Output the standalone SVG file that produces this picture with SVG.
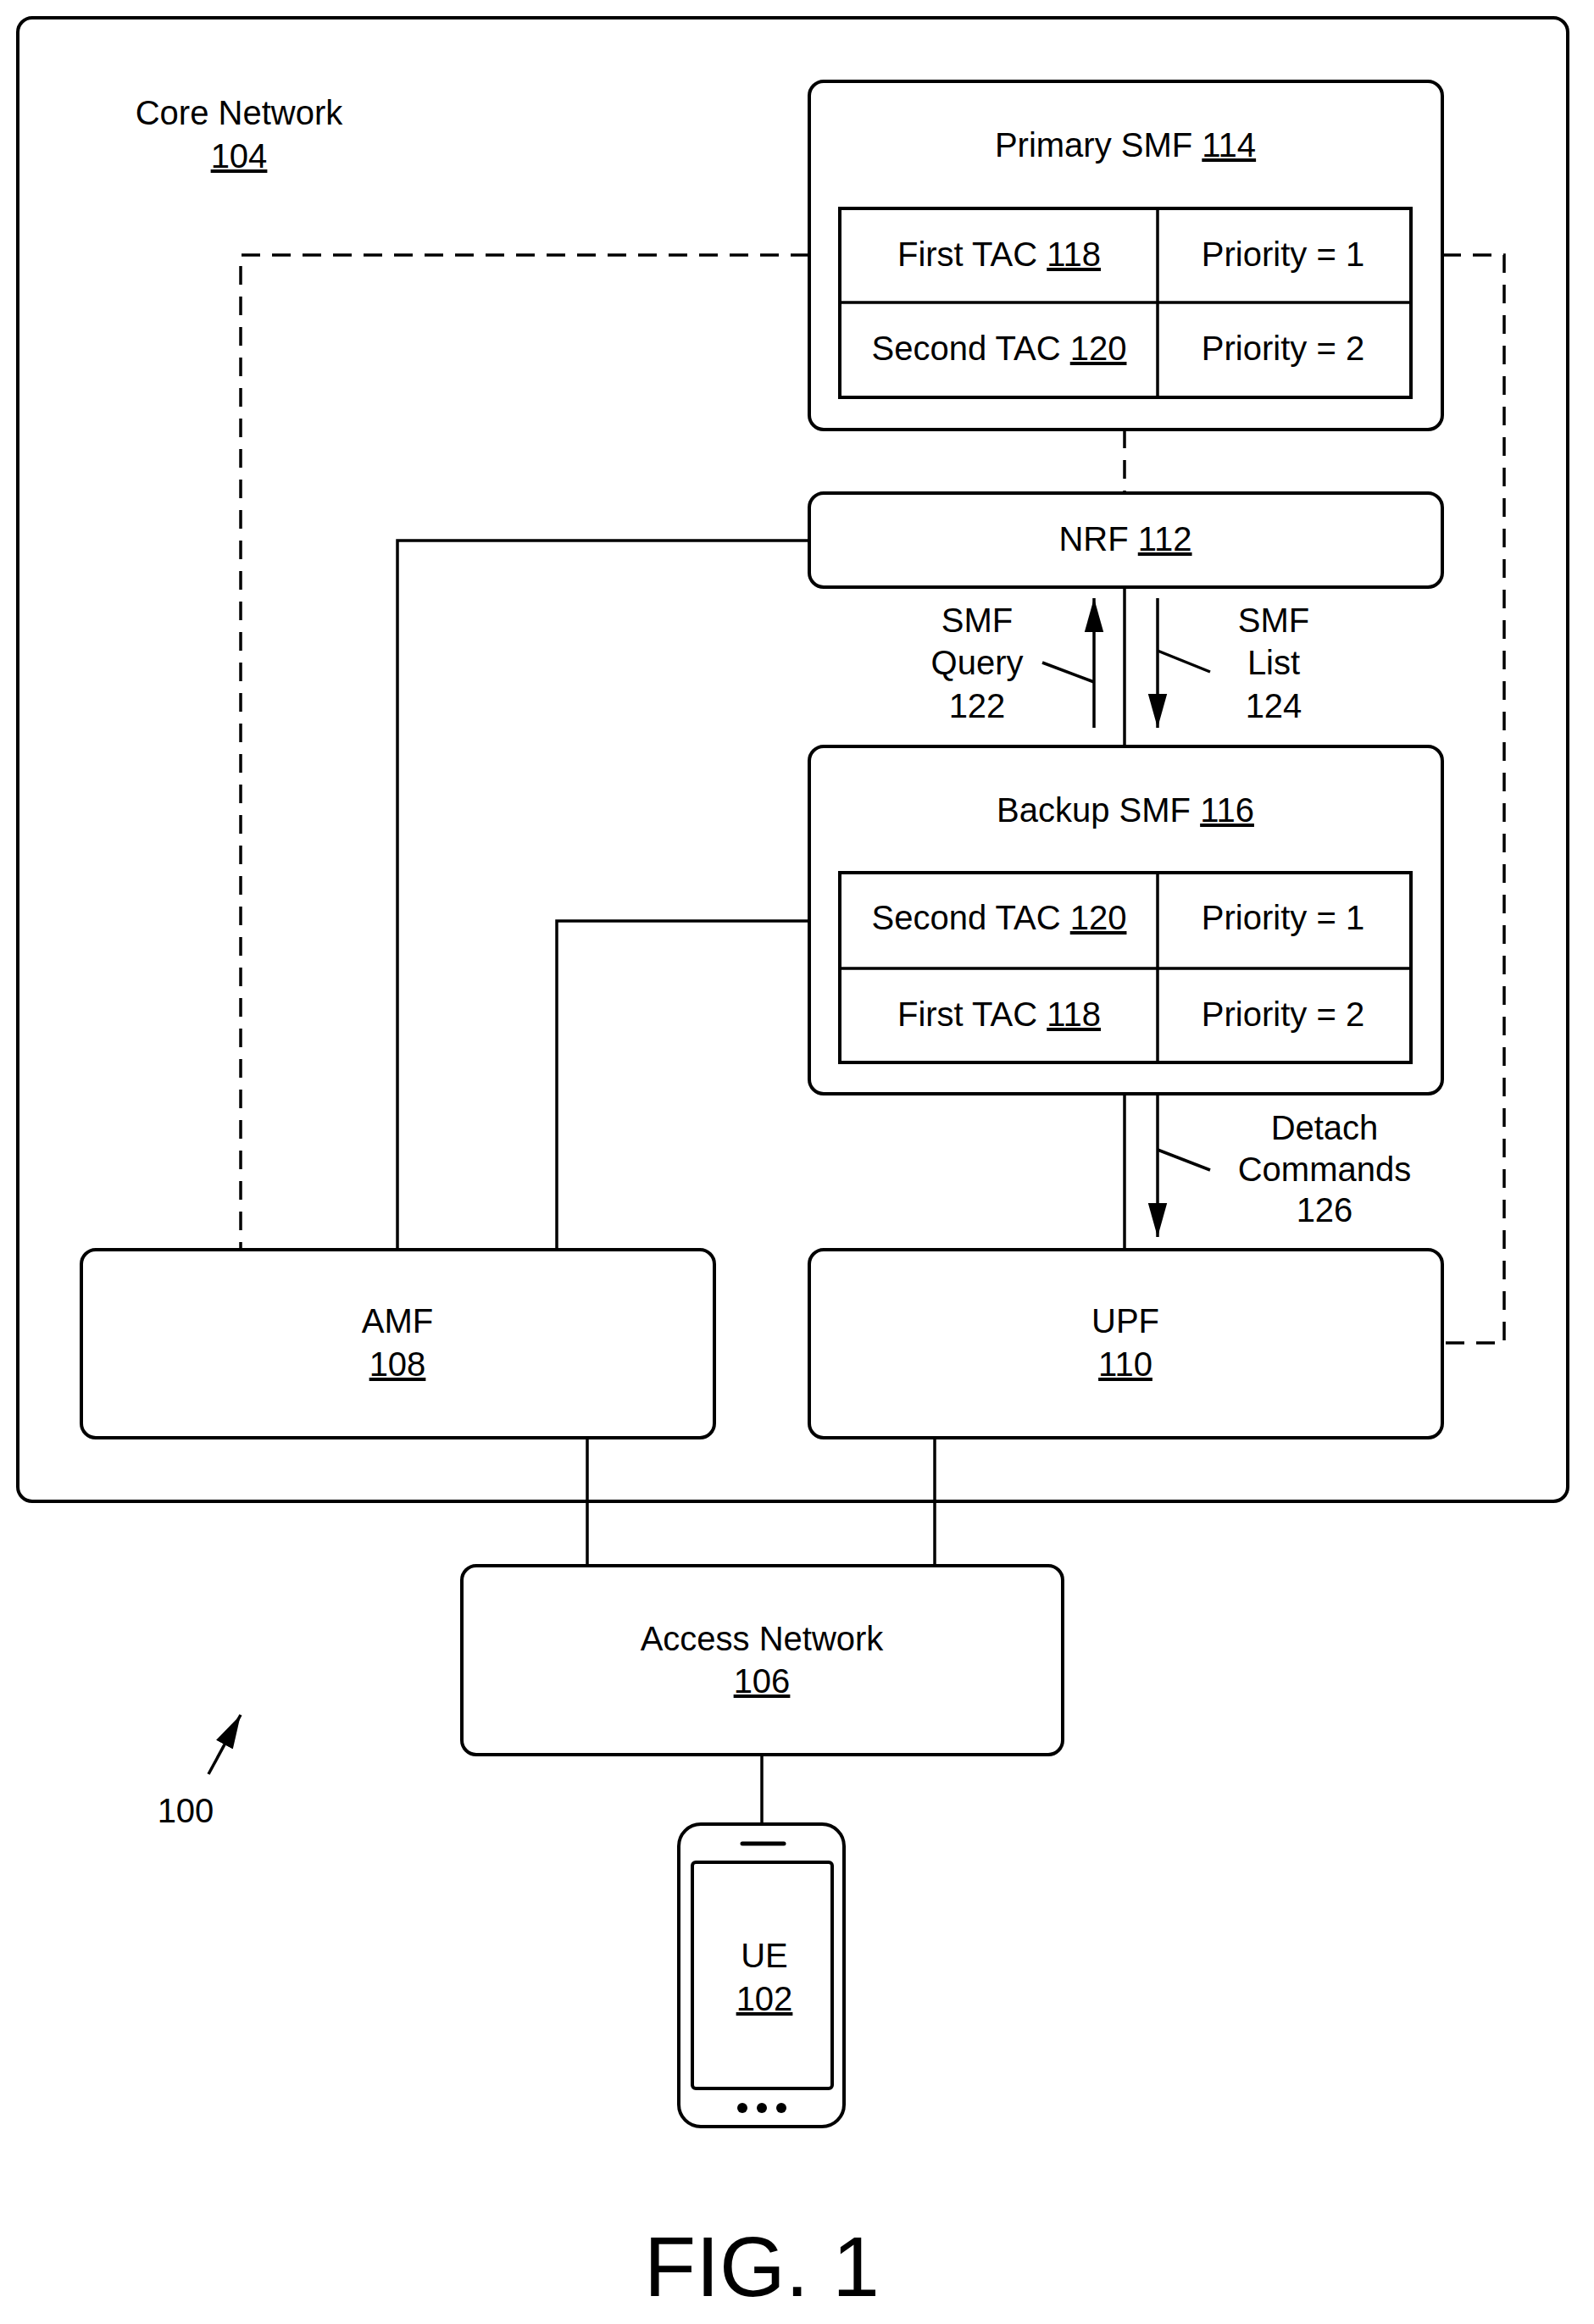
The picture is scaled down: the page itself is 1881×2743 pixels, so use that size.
<svg xmlns="http://www.w3.org/2000/svg" width="1881" height="2743" viewBox="0 0 1881 2743">
<style>
.b{fill:#fff;stroke:#000;stroke-width:4}
.l{fill:none;stroke:#000;stroke-width:3.5}
.d{fill:none;stroke:#000;stroke-width:3.5;stroke-dasharray:22 14}
text{font-family:"Liberation Sans",Arial,sans-serif;font-size:40px;text-anchor:middle;fill:#000}
.u{text-decoration:underline}
</style>
<defs>
<marker id="a" viewBox="0 0 10 10" refX="10" refY="5" markerWidth="40" markerHeight="40" markerUnits="userSpaceOnUse" orient="auto"><path d="M0,2.2 L10,5 L0,7.8 Z"/></marker></defs>
<rect class="b" x="21" y="21" width="1829" height="1751" rx="17"/>
<text x="282" y="147">Core Network</text><text x="282" y="198" class="u">104</text>
<g id="connectors">
<path class="d" d="M955,301 H284 V1475"/>
<path class="d" d="M1702,301 H1775 V1585 H1702"/>
<path class="d" d="M1327,507 V582"/>
<path class="l" d="M955,638 H469 V1475"/>
<path class="l" d="M955,1087 H657 V1475"/>
<path class="l" d="M1327,693 V881"/>
<path class="l" d="M1327,1291 V1475"/>
<path class="l" d="M1291,859 V706" marker-end="url(#a)"/>
<path class="l" d="M1366,706 V859" marker-end="url(#a)"/>
<path class="l" d="M1366,1291 V1460" marker-end="url(#a)"/>
<path class="l" d="M1230,782 L1291,805"/>
<path class="l" d="M1366,768 L1428,793"/>
<path class="l" d="M1366,1357 L1428,1381"/>
<path class="l" d="M693,1697 V1848"/>
<path class="l" d="M1103,1697 V1848"/>
<path class="l" d="M899,2071 V2153"/>
<path class="l" d="M246,2094 L284,2024" marker-end="url(#a)"/>
</g>
<text x="1153" y="746">SMF</text><text x="1153" y="796">Query</text><text x="1153" y="847">122</text>
<text x="1503" y="746">SMF</text><text x="1503" y="796">List</text><text x="1503" y="847">124</text>
<text x="1563" y="1345">Detach</text><text x="1563" y="1394">Commands</text><text x="1563" y="1442">126</text>
<g id="primary-smf">
<rect class="b" x="955" y="96" width="747" height="411" rx="17"/>
<text x="1328" y="185">Primary SMF <tspan class="u">114</tspan></text>
<rect class="b" x="991" y="246" width="674" height="223"/>
<path class="l" d="M1366,246 V469 M991,357 H1665"/>
<text x="1179" y="314">First TAC <tspan class="u">118</tspan></text>
<text x="1514" y="314">Priority = 1</text>
<text x="1179" y="425">Second TAC <tspan class="u">120</tspan></text>
<text x="1514" y="425">Priority = 2</text>
</g>
<g id="nrf">
<rect class="b" x="955" y="582" width="747" height="111" rx="17"/>
<text x="1328" y="650">NRF <tspan class="u">112</tspan></text>
</g>
<g id="backup-smf">
<rect class="b" x="955" y="881" width="747" height="410" rx="17"/>
<text x="1328" y="970">Backup SMF <tspan class="u">116</tspan></text>
<rect class="b" x="991" y="1030" width="674" height="224"/>
<path class="l" d="M1366,1030 V1254 M991,1143 H1665"/>
<text x="1179" y="1097">Second TAC <tspan class="u">120</tspan></text>
<text x="1514" y="1097">Priority = 1</text>
<text x="1179" y="1211">First TAC <tspan class="u">118</tspan></text>
<text x="1514" y="1211">Priority = 2</text>
</g>
<g id="amf">
<rect class="b" x="96" y="1475" width="747" height="222" rx="17"/>
<text x="469" y="1573">AMF</text><text x="469" y="1624" class="u">108</text>
</g>
<g id="upf">
<rect class="b" x="955" y="1475" width="747" height="222" rx="17"/>
<text x="1328" y="1573">UPF</text><text x="1328" y="1624" class="u">110</text>
</g>
<g id="access-network">
<rect class="b" x="545" y="1848" width="709" height="223" rx="17"/>
<text x="899" y="1948">Access Network</text><text x="899" y="1998" class="u">106</text>
</g>
<g id="ue">
<rect class="b" x="801" y="2153" width="195" height="357" rx="26"/>
<rect class="b" x="817" y="2198" width="165" height="267" rx="4"/>
<path d="M876,2176 H925" stroke="#000" stroke-width="5" stroke-linecap="round"/>
<circle cx="876" cy="2488" r="6"/><circle cx="899" cy="2488" r="6"/><circle cx="922" cy="2488" r="6"/>
<text x="902" y="2322">UE</text><text x="902" y="2373" class="u">102</text>
</g>
<text x="219" y="2151">100</text>
<text x="899" y="2710" style="font-size:100px">FIG. 1</text>
</svg>
